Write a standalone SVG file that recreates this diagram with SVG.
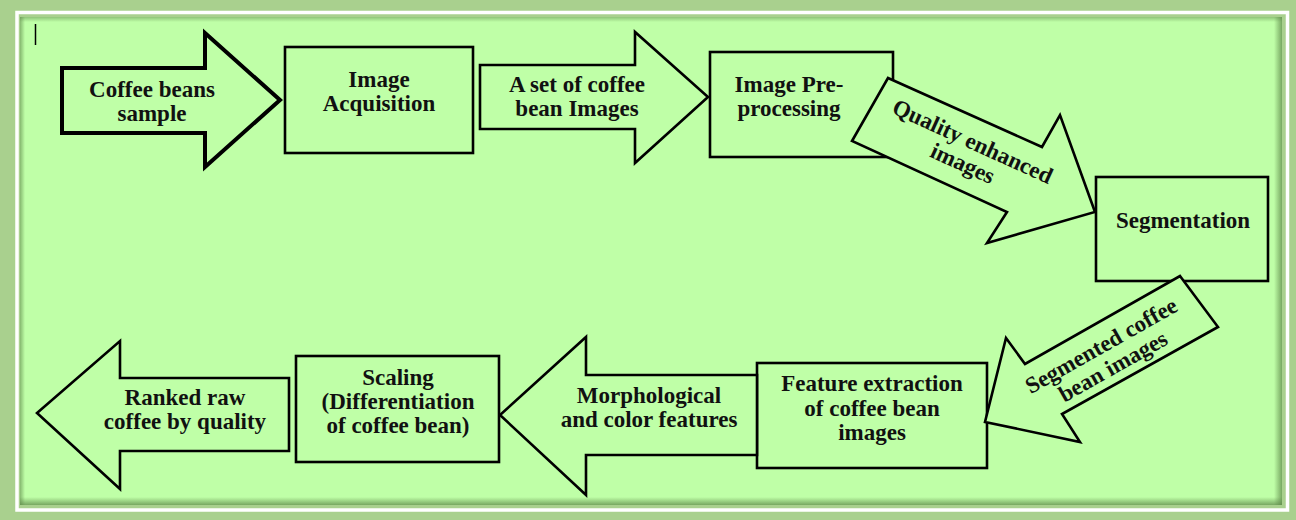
<svg xmlns="http://www.w3.org/2000/svg" width="1296" height="520" viewBox="0 0 1296 520">
  <defs>
    <style>
      .box { fill: none; stroke: #000; stroke-width: 2.6; }
      .arrow { fill: #bfffa7; stroke: #000; stroke-width: 2.6; stroke-linejoin: miter; }
      .arrow.heavy { stroke-width: 4; }
      .lbl { font-family: "Liberation Serif", "Times New Roman", serif; font-weight: bold; font-size: 23px; fill: #111; text-anchor: middle; }
    </style>
    <linearGradient id="edgeR" x1="0" y1="0" x2="1" y2="0">
      <stop offset="0" stop-color="#5f8a4a" stop-opacity="0"/>
      <stop offset="1" stop-color="#5f8a4a" stop-opacity="0.75"/>
    </linearGradient>
    <linearGradient id="edgeL" x1="1" y1="0" x2="0" y2="0">
      <stop offset="0" stop-color="#5f8a4a" stop-opacity="0"/>
      <stop offset="1" stop-color="#5f8a4a" stop-opacity="0.6"/>
    </linearGradient>
    <linearGradient id="edgeB" x1="0" y1="0" x2="0" y2="1">
      <stop offset="0" stop-color="#5f8a4a" stop-opacity="0"/>
      <stop offset="1" stop-color="#5f8a4a" stop-opacity="0.75"/>
    </linearGradient>
    <linearGradient id="edgeT" x1="0" y1="1" x2="0" y2="0">
      <stop offset="0" stop-color="#5f8a4a" stop-opacity="0"/>
      <stop offset="1" stop-color="#5f8a4a" stop-opacity="0.5"/>
    </linearGradient>
  </defs>

  <!-- page frame -->
  <g id="frame">
    <rect x="0" y="0" width="1296" height="520" fill="#a9d08e"/>
    <rect x="17" y="12.5" width="1270.5" height="497.5" fill="none" stroke="#ffffff" stroke-width="3.5"/>
    <rect x="20" y="17" width="1262" height="488" fill="#bfffa7"/>
    <rect x="20" y="17" width="1262" height="5" fill="url(#edgeT)"/>
    <rect x="20" y="17" width="5" height="488" fill="url(#edgeL)"/>
    <rect x="1274" y="17" width="8" height="488" fill="url(#edgeR)"/>
    <rect x="20" y="497" width="1262" height="8" fill="url(#edgeB)"/>
    <line x1="35.5" y1="24" x2="35.5" y2="45" stroke="#000" stroke-width="1.5"/>
  </g>

  <!-- process steps -->
  <g id="node-acquisition">
    <rect class="box" x="285" y="47" width="188" height="106"/>
    <text class="lbl" x="379" y="87">Image</text>
    <text class="lbl" x="379" y="111">Acquisition</text>
  </g>
  <g id="node-preprocessing">
    <rect class="box" x="710" y="52" width="183" height="105"/>
    <text class="lbl" x="789" y="92">Image Pre-</text>
    <text class="lbl" x="789" y="116">processing</text>
  </g>
  <g id="node-segmentation">
    <rect class="box" x="1096" y="177" width="172" height="104"/>
    <text class="lbl" x="1183" y="228">Segmentation</text>
  </g>
  <g id="node-feature-extraction">
    <rect class="box" x="757" y="363" width="230" height="105"/>
    <text class="lbl" x="872" y="391">Feature extraction</text>
    <text class="lbl" x="872" y="416">of coffee bean</text>
    <text class="lbl" x="872" y="440">images</text>
  </g>
  <g id="node-scaling">
    <rect class="box" x="296" y="356" width="203" height="106"/>
    <text class="lbl" x="398" y="385">Scaling</text>
    <text class="lbl" x="398" y="409">(Differentiation</text>
    <text class="lbl" x="398" y="433">of coffee bean)</text>
  </g>

  <!-- block arrows between the steps -->
  <g id="connectors">
    <g id="arrow-sample">
      <polygon class="arrow heavy" points="62,68 205,68 205,33 280,100 205,167 205,133 62,133"/>
      <text class="lbl" x="152" y="97">Coffee beans</text>
      <text class="lbl" x="152" y="121">sample</text>
    </g>
    <g id="arrow-image-set">
      <polygon class="arrow" points="480,65 635,65 635,32 708,97 635,163 635,129 480,129"/>
      <text class="lbl" x="577" y="92">A set of coffee</text>
      <text class="lbl" x="577" y="116">bean Images</text>
    </g>
    <g id="arrow-enhanced">
      <polygon class="arrow" points="888,78 1042,147 1060,115 1095,212 987,243 1007,212 852,141"/>
      <g transform="translate(972,143) rotate(24.5)">
        <text class="lbl" x="0" y="6">Quality enhanced</text>
        <text class="lbl" x="0" y="30">images</text>
      </g>
    </g>
    <g id="arrow-segmented">
      <polygon class="arrow" points="1180,276 1218,327 1062,414 1080,442 985,422 1006,338 1025,364"/>
      <g transform="translate(1102,347) rotate(-29.5)">
        <text class="lbl" x="0" y="6">Segmented coffee</text>
        <text class="lbl" x="0" y="30">bean images</text>
      </g>
    </g>
    <g id="arrow-features">
      <polygon class="arrow" points="757,375 586,375 586,337 500,415 586,495 586,455 757,455"/>
      <text class="lbl" x="649" y="403">Morphological</text>
      <text class="lbl" x="649" y="427">and color features</text>
    </g>
    <g id="arrow-ranked">
      <polygon class="arrow" points="289,378 120,378 120,341 37,413 120,489 120,451 289,451"/>
      <text class="lbl" x="185" y="405">Ranked raw</text>
      <text class="lbl" x="185" y="429">coffee by quality</text>
    </g>
  </g>
</svg>
